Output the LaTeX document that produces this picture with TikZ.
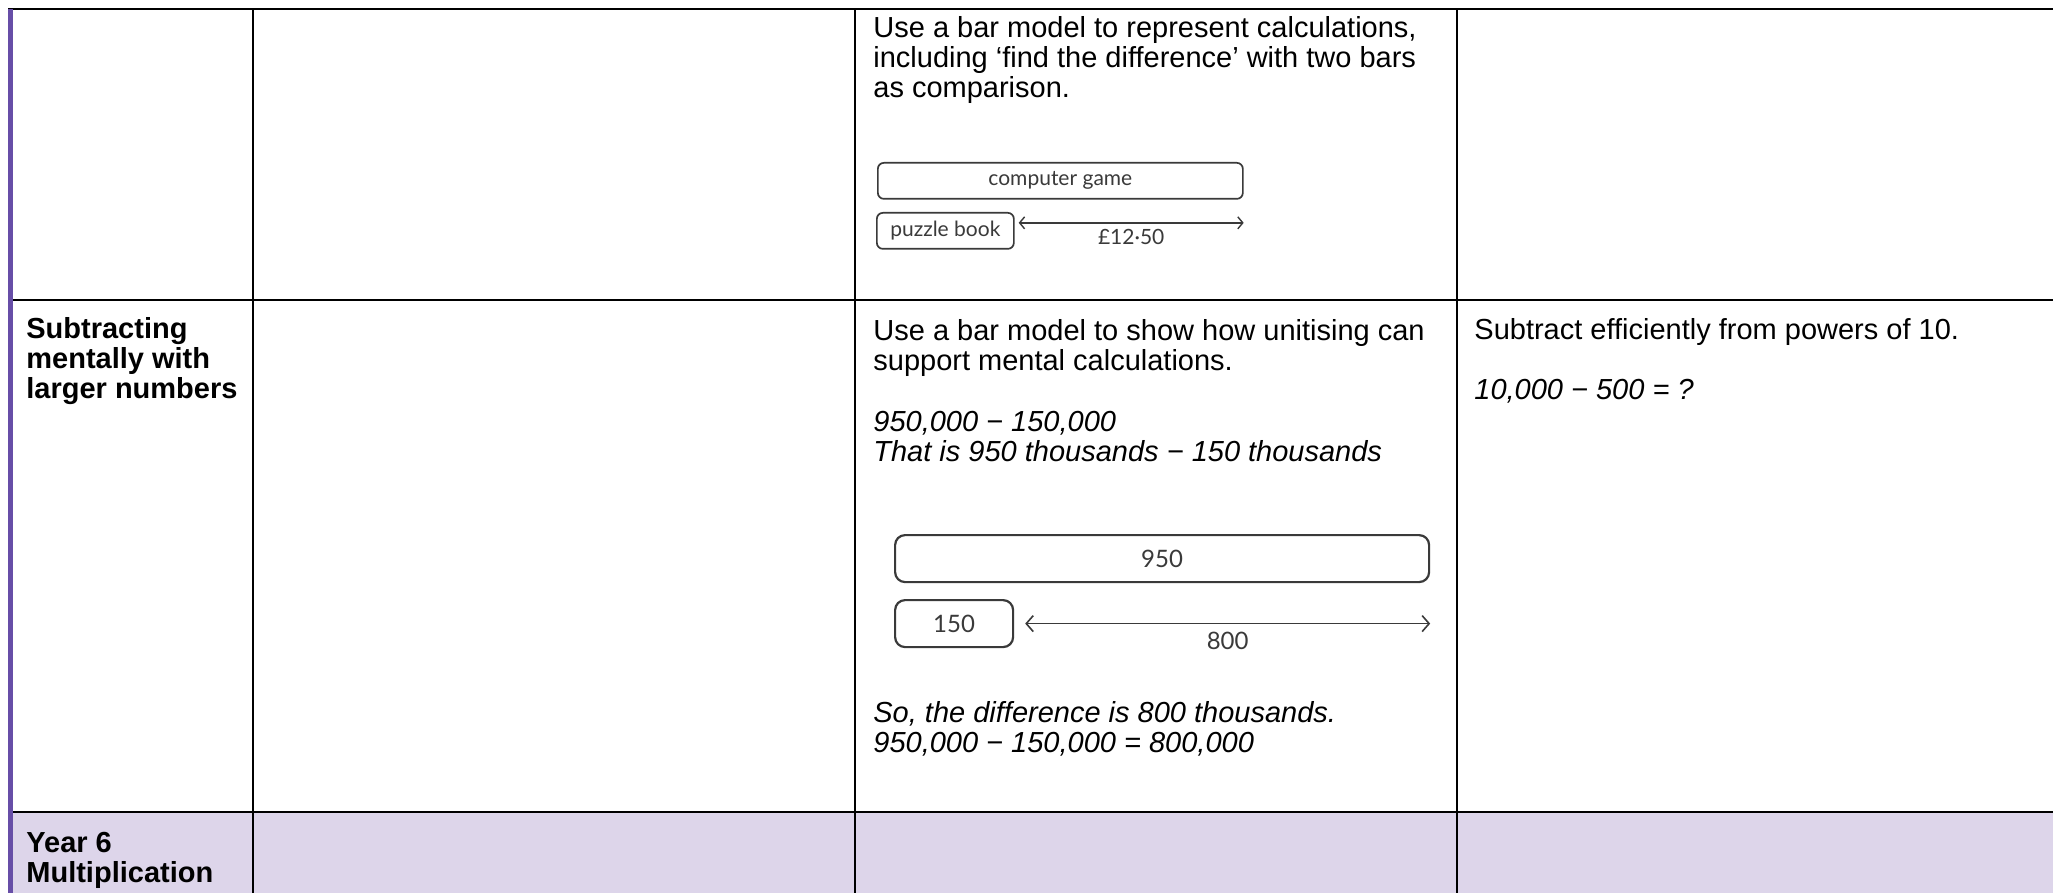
\documentclass[tikz,border=0pt]{standalone}
\usepackage{fontspec}
\setmainfont{Liberation Sans}
\newfontfamily\barfont{Lato}
\usepackage{xcolor}
\usetikzlibrary{positioning, arrows.meta}
\definecolor{tablepurple}{HTML}{674EA7}
\definecolor{headfill}{HTML}{DDD5EA}
\definecolor{barline}{HTML}{3A3A3A}

\tikzset{
  gridline/.style={line width=1pt, black},
  celltext/.style={anchor=base west, inner sep=0pt, font=\fontsize{14.5}{17}\selectfont},
  boldtext/.style={celltext, font=\fontsize{14.5}{17}\selectfont\bfseries},
  itext/.style={celltext, font=\fontsize{14.5}{17}\selectfont\itshape},
  smallbar/.style={draw=barline, line width=0.85pt, rounded corners=3pt, minimum height=18pt, inner sep=0pt, text=barline, anchor=north west, font=\barfont\fontsize{10.5}{12}\selectfont},
  bigbar/.style={smallbar, line width=1.1pt, rounded corners=5pt, minimum height=23.5pt, font=\barfont\fontsize{12}{14}\selectfont},
  diffarrow/.style={barline, line width=0.7pt, {Straight Barb[length=2.5pt,width=6pt]}-{Straight Barb[length=2.5pt,width=6pt]}},
  bigarrow/.style={diffarrow, line width=0.8pt, {Straight Barb[length=3.5pt,width=8pt]}-{Straight Barb[length=3.5pt,width=8pt]}},
}

\begin{document}
\begin{tikzpicture}[x=0.5pt, y=-0.5pt]
 \useasboundingbox (0,0) rectangle (2053,893);
 \fill[white] (0,0) rectangle (2053,893);
 \fill[headfill] (13,812) rectangle (2053,893);

 %table lines
 \draw[gridline] (8,9) -- (2053,9);
 \draw[gridline] (8,300) -- (2053,300);
 \draw[gridline] (8,812) -- (2053,812);
 \foreach \x in {252.5, 855, 1457} \draw[gridline] (\x,9) -- (\x,893);
 \fill[tablepurple] (8,9) rectangle (13,893);

 %first row
 \node[celltext] (cmp1) at (873,38) {Use a bar model to represent calculations,};
 \node[celltext] (cmp2) at (873,68) {including ‘find the difference’ with two bars};
 \node[celltext] (cmp3) at (873,98) {as comparison.};

 \node[smallbar, minimum width=182.5pt] (game) at (877,162) {computer game};
 \node[smallbar, minimum width=68.5pt] (puzzle) at (876,212) {puzzle book};
 \coordinate (gameend) at (puzzle.east -| game.east);
 \draw[diffarrow] ([xshift=2pt,yshift=4pt]puzzle.east) -- ([yshift=4pt]gameend)
   node[midway, below=3pt, inner sep=0pt, text=barline, font=\barfont\fontsize{10.5}{12}\selectfont] (cost) {£12·50};

 %second row
 \node[boldtext] (sub1) at (26,339) {Subtracting};
 \node[boldtext] (sub2) at (26,369) {mentally with};
 \node[boldtext] (sub3) at (26,399) {larger numbers};

 \node[celltext] (unit1) at (873,341) {Use a bar model to show how unitising can};
 \node[celltext] (unit2) at (873,371) {support mental calculations.};
 \node[itext] (unit3) at (873,431) {950,000 − 150,000};
 \node[itext] (unit4) at (873,461) {That is 950 thousands − 150 thousands};

 \node[bigbar, minimum width=267pt] (whole) at (894,534) {950};
 \node[bigbar, minimum width=59pt] (part) at (894,599) {150};
 \coordinate (wholeend) at (part.east -| whole.east);
 \draw[bigarrow] ([xshift=5.5pt]part.east) -- (wholeend)
   node[midway, below=4pt, inner sep=0pt, text=barline, font=\barfont\fontsize{12}{14}\selectfont] (gap) {800};

 \node[itext] (unit5) at (873,722) {So, the difference is 800 thousands.};
 \node[itext] (unit6) at (873,752) {950,000 − 150,000 = 800,000};

 \node[celltext] (pow1) at (1474,340) {Subtract efficiently from powers of 10.};
 \node[itext] (pow2) at (1474,400) {10,000 − 500 = ?};

 %third row
 \node[boldtext] (year1) at (26,852) {Year 6};
 \node[boldtext] (year2) at (26,882) {Multiplication};
\end{tikzpicture}
\end{document}
